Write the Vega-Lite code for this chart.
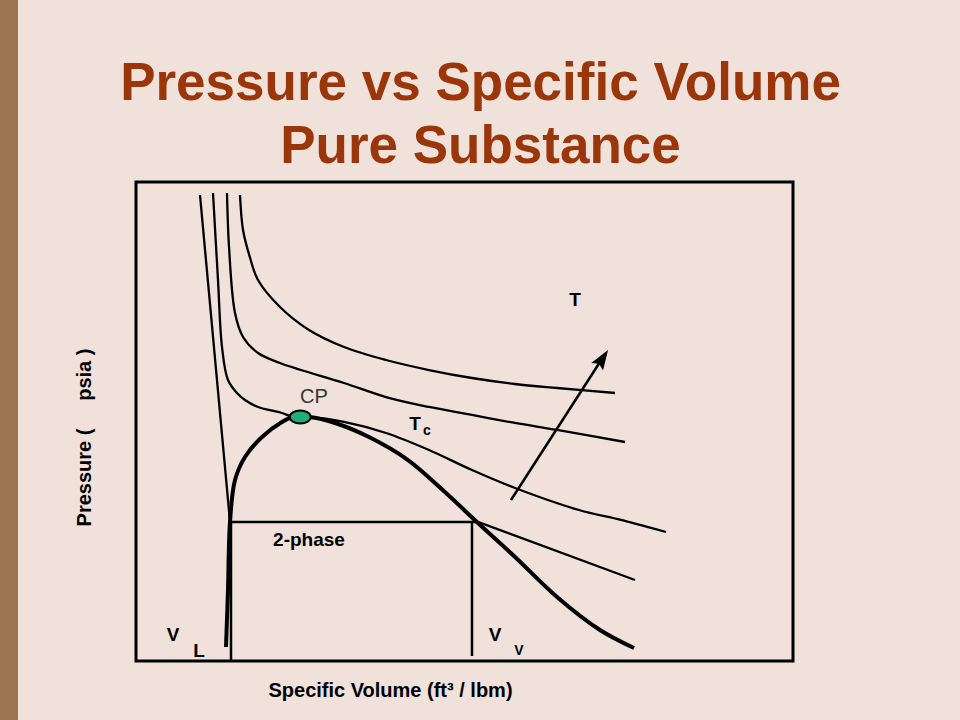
{
  "$schema": "https://vega.github.io/schema/vega-lite/v6.json",
  "autosize": {"type": "none"},
  "width": 657,
  "height": 479,
  "padding": {"left": 136, "top": 182, "right": 167, "bottom": 59},
  "background": "#F0E1DA",
  "title": {
    "text": ["Pressure vs Specific Volume", "Pure Substance"],
    "font": "Liberation Sans",
    "fontSize": 53,
    "fontWeight": "bold",
    "color": "#9A360A",
    "lineHeight": 63,
    "anchor": "middle",
    "baseline": "top",
    "dx": 16,
    "dy": 188,
    "offset": 14
  },
  "config": {
    "view": {"stroke": "#000000", "strokeWidth": 3},
    "axis": {"domain": false, "ticks": false, "labels": false, "grid": false,
             "titleFont": "Liberation Sans", "titleFontSize": 20, "titleFontWeight": "bold", "titleColor": "#000000"},
    "axisX": {"titleX": 254, "titleY": 29, "titleBaseline": "middle", "titleAlign": "center"},
    "axisY": {"titleX": -52, "titleY": 255, "titleBaseline": "middle", "titleAlign": "center", "titleAngle": -90}
  },
  "datasets": {
    "isotherms": [
      {"series": "Tc", "i": 1, "v": 11.72, "p": 97.70},
      {"series": "Tc", "i": 2, "v": 12.48, "p": 79.54},
      {"series": "Tc", "i": 3, "v": 13.09, "p": 65.55},
      {"series": "Tc", "i": 4, "v": 14.00, "p": 58.66},
      {"series": "Tc", "i": 5, "v": 15.37, "p": 55.95},
      {"series": "Tc", "i": 6, "v": 16.59, "p": 54.49},
      {"series": "Tc", "i": 7, "v": 18.57, "p": 53.03},
      {"series": "Tc", "i": 8, "v": 22.22, "p": 51.77},
      {"series": "Tc", "i": 9, "v": 23.90, "p": 50.94},
      {"series": "Tc", "i": 10, "v": 26.33, "p": 50.94},
      {"series": "Tc", "i": 11, "v": 31.66, "p": 49.90},
      {"series": "Tc", "i": 12, "v": 38.05, "p": 47.60},
      {"series": "Tc", "i": 13, "v": 44.60, "p": 44.05},
      {"series": "Tc", "i": 14, "v": 51.14, "p": 39.87},
      {"series": "Tc", "i": 15, "v": 57.69, "p": 36.12},
      {"series": "Tc", "i": 16, "v": 67.43, "p": 31.52},
      {"series": "Tc", "i": 17, "v": 73.82, "p": 29.44},
      {"series": "Tc", "i": 18, "v": 80.67, "p": 26.93},
      {"series": "T3", "i": 1, "v": 13.85, "p": 97.70},
      {"series": "T3", "i": 2, "v": 14.16, "p": 86.43},
      {"series": "T3", "i": 3, "v": 15.07, "p": 72.65},
      {"series": "T3", "i": 4, "v": 16.29, "p": 67.64},
      {"series": "T3", "i": 5, "v": 18.57, "p": 64.30},
      {"series": "T3", "i": 6, "v": 21.92, "p": 62.21},
      {"series": "T3", "i": 7, "v": 25.11, "p": 60.75},
      {"series": "T3", "i": 8, "v": 31.66, "p": 58.04},
      {"series": "T3", "i": 9, "v": 38.05, "p": 55.11},
      {"series": "T3", "i": 10, "v": 44.60, "p": 53.03},
      {"series": "T3", "i": 11, "v": 51.14, "p": 51.36},
      {"series": "T3", "i": 12, "v": 57.69, "p": 49.69},
      {"series": "T3", "i": 13, "v": 64.08, "p": 48.23},
      {"series": "T3", "i": 14, "v": 74.43, "p": 45.72},
      {"series": "T4", "i": 1, "v": 15.83, "p": 97.29},
      {"series": "T4", "i": 2, "v": 16.29, "p": 89.98},
      {"series": "T4", "i": 3, "v": 17.31, "p": 84.41},
      {"series": "T4", "i": 4, "v": 18.57, "p": 79.54},
      {"series": "T4", "i": 5, "v": 21.92, "p": 73.90},
      {"series": "T4", "i": 6, "v": 26.33, "p": 69.10},
      {"series": "T4", "i": 7, "v": 31.66, "p": 65.55},
      {"series": "T4", "i": 8, "v": 38.05, "p": 62.84},
      {"series": "T4", "i": 9, "v": 44.60, "p": 60.75},
      {"series": "T4", "i": 10, "v": 51.14, "p": 59.08},
      {"series": "T4", "i": 11, "v": 57.69, "p": 57.83},
      {"series": "T4", "i": 12, "v": 64.08, "p": 56.99},
      {"series": "T4", "i": 13, "v": 72.91, "p": 55.95}
    ],
    "lowIsotherm": [
      {"i": 1, "v": 9.74, "p": 97.29},
      {"i": 2, "v": 14.31, "p": 29.02},
      {"i": 3, "v": 52.05, "p": 29.02},
      {"i": 4, "v": 75.95, "p": 16.91}
    ],
    "dome": [
      {"i": 1, "v": 13.70, "p": 2.92},
      {"i": 2, "v": 14.00, "p": 14.82},
      {"i": 3, "v": 14.31, "p": 29.02},
      {"i": 4, "v": 15.07, "p": 37.79},
      {"i": 5, "v": 16.59, "p": 42.59},
      {"i": 6, "v": 19.18, "p": 46.76},
      {"i": 7, "v": 22.22, "p": 49.90},
      {"i": 8, "v": 23.90, "p": 50.94},
      {"i": 9, "v": 26.33, "p": 50.94},
      {"i": 10, "v": 30.29, "p": 49.69},
      {"i": 11, "v": 35.46, "p": 46.76},
      {"i": 12, "v": 41.40, "p": 41.96},
      {"i": 13, "v": 47.18, "p": 35.07},
      {"i": 14, "v": 52.05, "p": 28.81},
      {"i": 15, "v": 57.69, "p": 21.71},
      {"i": 16, "v": 64.08, "p": 13.36},
      {"i": 17, "v": 70.62, "p": 6.47},
      {"i": 18, "v": 75.80, "p": 2.71}
    ],
    "segments": [
      {"name": "vL", "v": 14.46, "p": 29.02, "v2": 14.46, "p2": 0},
      {"name": "vV", "v": 51.14, "p": 29.02, "v2": 51.14, "p2": 1.04},
      {"name": "arrow", "v": 57.08, "p": 33.61, "v2": 70.62, "p2": 62.42}
    ]
  },
  "layer": [
    {
      "data": {"values": [{"v": -20.7, "v2": -17.96, "p": -12.4, "p2": 138}]},
      "mark": {"type": "rect", "color": "#9C7650", "clip": false},
      "encoding": {
        "x": {"field": "v", "type": "quantitative", "scale": {"domain": [0, 100], "nice": false, "zero": false}, "title": "Specific Volume (ft³ / lbm)"},
        "x2": {"field": "v2"},
        "y": {"field": "p", "type": "quantitative", "scale": {"domain": [0, 100], "nice": false, "zero": false}, "title": "Pressure (\u00a0\u00a0\u00a0\u00a0 psia )"},
        "y2": {"field": "p2"}
      }
    },
    {
      "data": {"name": "isotherms"},
      "mark": {"type": "line", "color": "#000000", "strokeWidth": 2.3, "interpolate": "catmull-rom"},
      "encoding": {
        "x": {"field": "v", "type": "quantitative"},
        "y": {"field": "p", "type": "quantitative"},
        "detail": {"field": "series"},
        "order": {"field": "i", "type": "quantitative"}
      }
    },
    {
      "data": {"name": "lowIsotherm"},
      "mark": {"type": "line", "color": "#000000", "strokeWidth": 2.3},
      "encoding": {
        "x": {"field": "v", "type": "quantitative"},
        "y": {"field": "p", "type": "quantitative"},
        "order": {"field": "i", "type": "quantitative"}
      }
    },
    {
      "data": {"name": "dome"},
      "mark": {"type": "line", "color": "#000000", "strokeWidth": 4, "interpolate": "catmull-rom"},
      "encoding": {
        "x": {"field": "v", "type": "quantitative"},
        "y": {"field": "p", "type": "quantitative"},
        "order": {"field": "i", "type": "quantitative"}
      }
    },
    {
      "data": {"name": "segments"},
      "mark": {"type": "rule", "color": "#000000", "strokeWidth": 2.5},
      "encoding": {
        "x": {"field": "v", "type": "quantitative"},
        "y": {"field": "p", "type": "quantitative"},
        "x2": {"field": "v2"},
        "y2": {"field": "p2"}
      }
    },
    {
      "data": {"values": [{"v": 71.02, "p": 63.17}]},
      "mark": {"type": "point", "shape": "M0,-1 L0.7,1 L0,0.65 L-0.7,1 Z", "size": 400, "angle": 33, "filled": true, "color": "#000000", "opacity": 1},
      "encoding": {
        "x": {"field": "v", "type": "quantitative"},
        "y": {"field": "p", "type": "quantitative"}
      }
    },
    {
      "data": {"values": [{"v": 25.0, "p": 50.94}]},
      "mark": {"type": "point", "shape": "M-1,0 A1,0.62 0 1,1 1,0 A1,0.62 0 1,1 -1,0 Z", "size": 441, "filled": true, "fill": "#1DB07A", "stroke": "#000000", "strokeWidth": 2, "opacity": 1},
      "encoding": {
        "x": {"field": "v", "type": "quantitative"},
        "y": {"field": "p", "type": "quantitative"}
      }
    },
    {
      "data": {"values": [
        {"label": "2-phase", "v": 26.33, "p": 25.26},
        {"label": "V", "v": 5.63, "p": 5.43},
        {"label": "L", "v": 9.59, "p": 2.09},
        {"label": "V", "v": 54.64, "p": 5.43},
        {"label": "T", "v": 42.47, "p": 49.48},
        {"label": "T", "v": 66.82, "p": 75.37}
      ]},
      "mark": {"type": "text", "font": "Liberation Sans", "fontSize": 19, "fontWeight": "bold", "color": "#000000", "baseline": "middle", "align": "center"},
      "encoding": {
        "x": {"field": "v", "type": "quantitative"},
        "y": {"field": "p", "type": "quantitative"},
        "text": {"field": "label"}
      }
    },
    {
      "data": {"values": [
        {"label": "c", "v": 44.29, "p": 48.02},
        {"label": "V", "v": 58.30, "p": 2.09}
      ]},
      "mark": {"type": "text", "font": "Liberation Sans", "fontSize": 14, "fontWeight": "bold", "color": "#000000", "baseline": "middle", "align": "center"},
      "encoding": {
        "x": {"field": "v", "type": "quantitative"},
        "y": {"field": "p", "type": "quantitative"},
        "text": {"field": "label"}
      }
    },
    {
      "data": {"values": [{"label": "CP", "v": 27.09, "p": 55.11}]},
      "mark": {"type": "text", "font": "Liberation Sans", "fontSize": 20, "color": "#333333", "baseline": "middle", "align": "center"},
      "encoding": {
        "x": {"field": "v", "type": "quantitative"},
        "y": {"field": "p", "type": "quantitative"},
        "text": {"field": "label"}
      }
    }
  ],
  "resolve": {"scale": {"x": "shared", "y": "shared"}}
}
